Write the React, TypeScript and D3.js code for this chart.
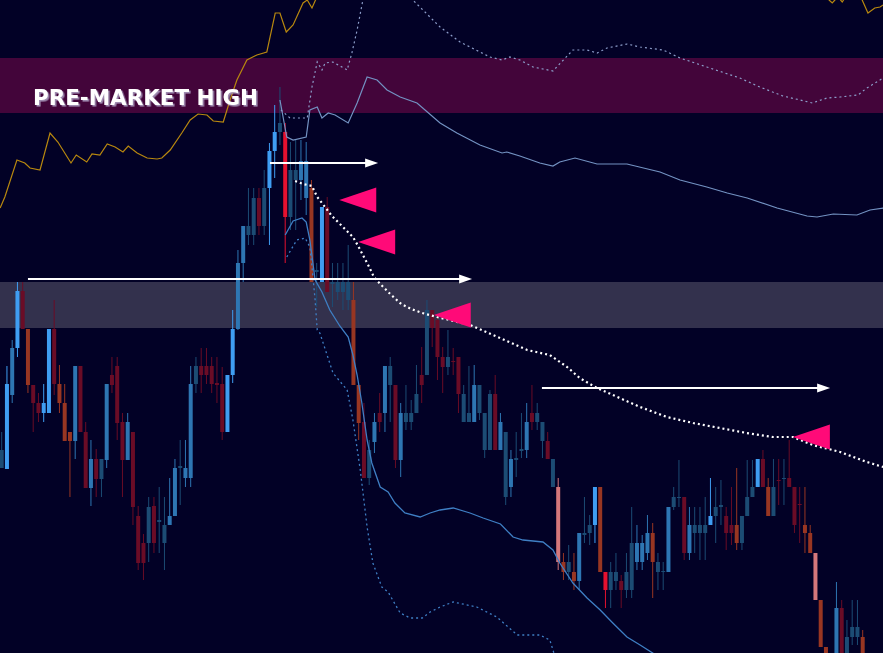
import React from "react";
import * as d3 from "d3";

const W = 883;
const H = 653;

// ---- Candles (price in cents, bar index = position in array) ----
const opens = [
  232, 231, 305, 352, 409, 371, 315, 297, 287, 287,
  371, 316, 297, 268, 259, 334, 268, 212, 241, 221,
  240, 325, 334, 278, 240, 268, 184, 157, 157, 194,
  178, 157, 175, 184, 232, 222, 222, 316, 334, 334,
  334, 317, 316, 268, 325, 371, 437, 465, 465, 502,
  474, 512, 549, 568, 568, 483, 520, 520, 502, 512,
  428, 418, 493, 416, 408, 408, 400, 400, 315, 278,
  222, 258, 287, 287, 315, 315, 240, 278, 278, 287,
  325, 325, 390, 380, 343, 333, 339, 343, 278, 278,
  278, 287, 250, 250, 306, 250, 203, 213, 240, 249,
  250, 287, 278, 259, 259, 213, 213, 138, 128, 128,
  119, 165, 167, 175, 213, 128, 110, 119, 119, 110,
  110, 138, 138, 147, 167, 128, 128, 128, 193, 202,
  203, 147, 167, 167, 167, 175, 184, 193, 184, 175,
  175, 157, 184, 203, 213, 241, 213, 184, 220, 221,
  222, 213, 196, 175, 167, 147, 100, 53, 40, 40,
  92, 40, 63, 63, 63,
];
const highs = [
  268, 334, 360, 418, 418, 371, 315, 307, 316, 371,
  400, 335, 316, 268, 334, 334, 278, 260, 251, 241,
  316, 343, 343, 287, 287, 268, 194, 166, 203, 203,
  213, 203, 222, 241, 260, 260, 334, 343, 352, 352,
  343, 343, 333, 325, 390, 450, 474, 512, 512, 512,
  530, 557, 595, 613, 577, 558, 560, 560, 558, 520,
  437, 493, 503, 437, 437, 437, 455, 418, 315, 297,
  260, 287, 307, 334, 343, 315, 297, 315, 300, 335,
  353, 400, 390, 385, 353, 370, 352, 343, 315, 334,
  335, 315, 287, 310, 325, 287, 268, 250, 268, 287,
  297, 315, 297, 278, 268, 241, 222, 147, 155, 147,
  167, 203, 185, 213, 213, 128, 138, 147, 125, 147,
  193, 175, 165, 185, 177, 147, 138, 193, 213, 240,
  203, 193, 193, 193, 203, 222, 213, 220, 193, 213,
  232, 184, 240, 240, 241, 250, 222, 241, 241, 241,
  260, 213, 213, 213, 175, 147, 100, 53, 40, 118,
  100, 80, 100, 100, 70,
];
const lows = [
  232, 231, 297, 343, 371, 307, 268, 278, 278, 287,
  305, 287, 259, 203, 241, 268, 212, 194, 203, 203,
  232, 307, 260, 203, 240, 175, 130, 120, 138, 147,
  147, 130, 175, 184, 195, 213, 213, 307, 307, 316,
  307, 297, 260, 268, 317, 370, 418, 455, 455, 465,
  465, 455, 522, 555, 437, 470, 470, 500, 485, 418,
  393, 418, 408, 393, 400, 390, 390, 315, 260, 222,
  215, 247, 268, 268, 278, 232, 223, 270, 270, 287,
  297, 325, 353, 320, 307, 325, 325, 287, 278, 278,
  278, 280, 242, 250, 250, 250, 195, 203, 223, 242,
  242, 270, 270, 242, 241, 213, 130, 120, 120, 110,
  110, 157, 155, 157, 128, 92, 92, 110, 92, 102,
  102, 130, 130, 140, 102, 110, 110, 128, 190, 193,
  140, 140, 147, 140, 140, 175, 157, 175, 150, 155,
  150, 150, 184, 203, 213, 213, 184, 184, 195, 195,
  213, 167, 157, 147, 147, 100, 53, 35, 10, 35,
  35, 35, 55, 55, 35,
];
const closes = [
  250, 316, 352, 409, 371, 315, 297, 287, 297, 371,
  316, 297, 259, 259, 334, 268, 212, 241, 221, 241,
  316, 315, 277, 240, 278, 193, 137, 137, 193, 157,
  180, 175, 184, 232, 234, 232, 316, 334, 325, 325,
  316, 315, 268, 325, 371, 437, 474, 474, 502, 474,
  512, 549, 568, 577, 483, 530, 530, 539, 539, 418,
  430, 493, 408, 418, 418, 418, 418, 315, 277, 222,
  250, 278, 278, 334, 334, 240, 287, 287, 287, 306,
  315, 390, 372, 343, 333, 343, 338, 306, 306, 287,
  315, 315, 287, 306, 250, 278, 268, 241, 242, 251,
  278, 278, 287, 278, 241, 241, 138, 128, 138, 119,
  167, 167, 175, 213, 128, 110, 128, 128, 110, 128,
  157, 157, 157, 167, 138, 138, 129, 193, 203, 203,
  147, 175, 175, 175, 175, 184, 193, 195, 167, 167,
  157, 184, 203, 213, 241, 213, 184, 213, 219, 222,
  213, 175, 195, 167, 147, 100, 53, 40, 20, 92,
  40, 63, 73, 73, 40,
];
// relative volume bucket (1 = light, 4 = heavy) -> colour intensity
const volumeShade = [
  1, 3, 2, 3, 1, 2, 1, 1, 3, 3,
  1, 2, 2, 2, 2, 1, 1, 2, 1, 1,
  2, 1, 1, 1, 2, 1, 1, 1, 1, 1,
  1, 1, 2, 2, 1, 2, 2, 1, 1, 1,
  1, 1, 1, 3, 3, 2, 2, 1, 1, 1,
  1, 3, 3, 1, 4, 1, 1, 2, 2, 2,
  1, 3, 1, 1, 1, 1, 1, 2, 2, 1,
  1, 2, 1, 2, 1, 1, 2, 1, 1, 1,
  1, 1, 1, 1, 1, 1, 1, 1, 1, 1,
  2, 1, 1, 1, 1, 2, 1, 2, 1, 1,
  2, 1, 1, 1, 1, 1, 3, 2, 1, 2,
  2, 1, 1, 3, 2, 4, 1, 1, 1, 1,
  1, 2, 2, 2, 2, 1, 1, 2, 1, 1,
  1, 2, 1, 1, 1, 3, 1, 1, 1, 1,
  2, 1, 1, 1, 3, 1, 2, 1, 1, 1,
  1, 1, 1, 2, 2, 3, 2, 2, 2, 2,
  1, 1, 1, 1, 2,
];

// ---- Overlay lines: [bar index, price] ----
const orangeLine: [number, number][] = [
  [-0.3, 492], [0.6, 503], [2.9, 540], [4.4, 537], [5.4, 532], [7.3, 530], [9.2, 567],
  [10.7, 558], [13.2, 537], [14.2, 545], [16.2, 538], [17.2, 546], [18.7, 545], [20.1, 556],
  [21.6, 553], [23.1, 548], [24.1, 554], [25.8, 547], [27.7, 542], [29.6, 541], [30.5, 542],
  [32.1, 550], [34.3, 567], [35.9, 580], [37.4, 586], [39.1, 585], [40.3, 579], [42.2, 578],
  [43.5, 600], [44.8, 620], [46.7, 640], [48.6, 645], [50.5, 648], [52.1, 687], [53.0, 687],
  [54.2, 668], [55.5, 675], [57.4, 697], [58.2, 700], [59.1, 692], [60.2, 705], [62.2, 730],
  [155.9, 730], [157.0, 705], [157.6, 700], [158.2, 697], [158.7, 700], [159.3, 703],
  [160.1, 698], [160.6, 702], [163.5, 705], [163.9, 700], [165.0, 687], [166.3, 692],
  [167.3, 693], [167.9, 695],
];
const upperBand: [number, number][] = [
  [53.0, 600], [54.3, 563], [55.5, 560], [58.0, 563], [58.7, 590], [60.1, 593], [61.0, 582],
  [62.2, 587], [63.5, 585], [66.0, 577], [67.7, 597], [69.6, 623], [71.5, 620], [73.4, 610],
  [75.9, 603], [79.1, 597], [83.5, 577], [86.7, 567], [91.1, 555], [95.3, 547], [96.2, 548],
  [98.7, 544], [102.5, 537], [105.0, 534], [106.3, 538], [109.2, 542], [113.4, 536],
  [119.1, 536], [125.4, 528], [129.2, 520], [134.3, 513], [138.2, 507], [142.0, 502],
  [147.7, 492], [153.4, 484], [155.3, 483], [158.4, 486], [162.9, 485], [165.4, 490],
  [167.9, 492],
];
const upperBand2: [number, number][] = [
  [53.2, 590], [54.9, 582], [58.2, 582], [59.1, 613], [60.1, 638], [61.0, 630], [61.6, 637],
  [63.1, 638], [65.8, 630], [66.7, 647], [67.7, 670], [68.8, 700], [69.8, 720], [71.1, 730],
  [74.9, 725], [78.3, 700], [83.5, 673], [87.3, 658], [93.0, 643], [95.3, 640], [96.8, 643],
  [98.7, 640], [101.2, 633], [105.0, 629], [108.8, 650], [111.5, 650], [113.4, 647],
  [115.3, 652], [119.1, 656], [121.6, 653], [126.0, 650], [129.2, 642], [134.3, 633],
  [140.6, 622], [144.4, 613], [148.8, 604], [152.1, 600], [154.4, 597], [157.2, 602],
  [159.7, 603], [163.1, 605], [164.8, 612], [167.9, 622],
];
const lowerBand: [number, number][] = [
  [54.0, 465], [55.5, 479], [57.2, 482], [58.0, 478], [58.7, 460], [59.7, 420], [61.0, 408],
  [62.5, 390], [64.4, 374], [66.0, 363], [66.9, 345], [67.7, 325], [68.6, 297], [69.6, 260],
  [70.5, 237], [72.1, 213], [73.6, 208], [74.9, 197], [76.8, 187], [79.7, 183], [81.6, 187],
  [83.5, 190], [86.0, 192], [89.2, 187], [91.7, 182], [95.0, 176], [97.4, 163], [99.3, 160],
  [103.1, 158], [105.0, 150], [106.3, 137], [108.8, 117], [111.5, 102], [114.0, 90],
  [116.4, 77], [119.1, 63], [121.6, 55], [124.6, 45],
];
const lowerBand2: [number, number][] = [
  [54.3, 443], [56.2, 460], [57.8, 462], [58.7, 453], [59.1, 433], [59.7, 400], [60.1, 370],
  [60.6, 367], [63.1, 327], [65.8, 310], [66.9, 280], [68.3, 230], [69.6, 173], [70.7, 137],
  [72.4, 113], [73.6, 108], [75.9, 87], [77.8, 82], [80.1, 82], [81.6, 88], [83.5, 93],
  [86.0, 98], [90.5, 93], [94.3, 83], [98.2, 65], [102.5, 65], [104.4, 60], [105.6, 40],
];
const vwapLine: [number, number][] = [
  [55.9, 519], [57.4, 516], [59.1, 514], [60.1, 503], [61.0, 497], [62.9, 484], [65.0, 473],
  [66.9, 463], [67.9, 454], [69.0, 443], [70.0, 433], [70.9, 423], [72.1, 416], [74.0, 406],
  [76.1, 396], [78.0, 391], [80.1, 387], [82.9, 383], [89.2, 375], [94.9, 362], [100.1, 350],
  [104.4, 345], [107.7, 333], [110.1, 322], [113.4, 312], [116.4, 305], [121.6, 293],
  [126.7, 283], [131.7, 277], [136.8, 272], [141.9, 267], [146.9, 263], [150.7, 263],
  [154.5, 255], [159.7, 248], [164.8, 238], [167.9, 233],
];

// ---- Annotations ----
const arrowStarts = [51.1, 5.0, 102.9];
const arrowEnds = [71.7, 89.6, 157.8];
const arrowPrices = [537, 421, 312];
const flagIndex = [64.3, 67.9, 82.3, 150.7];
const flagPrice = [500, 458, 385, 263];
const premarketZone = [587, 642];
const grayZone = [372, 418];
const premarketLabel = "PRE-MARKET HIGH";

const upColors = ["#1c4c74", "#2e76b3", "#3f9df2", "#3f9df2"];
const downColors = ["#6a0c26", "#983622", "#d4777b", "#e5112f"];

export default function App() {
  const x = d3.scaleLinear().domain([0, 168]).range([1.7, 1.7 + 5.25 * 168]);
  const y = d3.scaleLinear().domain([47, 700]).range([H, 0]);
  const line = d3
    .line<[number, number]>()
    .x((d) => x(d[0]))
    .y((d) => y(d[1]));
  const bodyW = 4;

  return (
    <svg
      width={W}
      height={H}
      style={{ position: "fixed", left: 0, top: 0, display: "block" }}
    >
      <defs>
        <filter id="labelShadow" x="-5%" y="-30%" width="115%" height="170%">
          <feDropShadow dx={1.6} dy={1.6} stdDeviation={0.4} floodColor="#a898bb" floodOpacity={0.9} />
        </filter>
      </defs>
      <rect x={0} y={0} width={W} height={H} fill="#020126" />
      <rect
        x={0}
        y={y(premarketZone[1])}
        width={W}
        height={y(premarketZone[0]) - y(premarketZone[1])}
        fill="#43053a"
      />
      <rect
        x={0}
        y={y(grayZone[1])}
        width={W}
        height={y(grayZone[0]) - y(grayZone[1])}
        fill="#33314d"
      />

      {opens.map((o, i) => {
        const c = closes[i];
        const up = c >= o;
        const col = (up ? upColors : downColors)[volumeShade[i] - 1];
        const top = y(Math.max(o, c));
        const bot = y(Math.min(o, c));
        const cx = x(i);
        return (
          <g key={i}>
            <line
              x1={cx}
              x2={cx}
              y1={y(highs[i])}
              y2={y(lows[i])}
              stroke={col}
              strokeWidth={1}
            />
            <rect
              x={cx - bodyW / 2}
              y={top}
              width={bodyW}
              height={Math.max(1, bot - top)}
              fill={col}
            />
          </g>
        );
      })}

      <path d={line(orangeLine) || ""} fill="none" stroke="#b8880f" strokeWidth={1.2} />
      <path d={line(upperBand) || ""} fill="none" stroke="#7392c2" strokeWidth={1.2} />
      <path
        d={line(upperBand2) || ""}
        fill="none"
        stroke="#8c9dc9"
        strokeWidth={1.2}
        strokeDasharray="2 3"
      />
      <path d={line(lowerBand) || ""} fill="none" stroke="#3f7fc4" strokeWidth={1.3} />
      <path
        d={line(lowerBand2) || ""}
        fill="none"
        stroke="#3f7fc4"
        strokeWidth={1.3}
        strokeDasharray="2 3"
      />
      <path
        d={line(vwapLine) || ""}
        fill="none"
        stroke="#ffffff"
        strokeWidth={2.2}
        strokeDasharray="2 3"
      />

      {arrowStarts.map((s, k) => {
        const x1 = x(s);
        const x2 = x(arrowEnds[k]);
        const yy = y(arrowPrices[k]);
        return (
          <g key={"a" + k}>
            <line x1={x1} x2={x2 - 11} y1={yy} y2={yy} stroke="#ffffff" strokeWidth={2} />
            <polygon
              points={`${x2},${yy} ${x2 - 13},${yy - 4.5} ${x2 - 13},${yy + 4.5}`}
              fill="#ffffff"
            />
          </g>
        );
      })}

      {flagIndex.map((f, k) => {
        const tx = x(f);
        const ty = y(flagPrice[k]);
        return (
          <polygon
            key={"f" + k}
            points={`${tx},${ty} ${tx + 37},${ty - 12.5} ${tx + 37},${ty + 12.5}`}
            fill="#ff0a78"
          />
        );
      })}

      <text
        x={33}
        y={105}
        fontFamily="'DejaVu Sans', sans-serif"
        fontWeight="bold"
        fontSize={22}
        textLength={225}
        lengthAdjust="spacingAndGlyphs"
        fill="#ffffff"
        filter="url(#labelShadow)"
      >
        {premarketLabel}
      </text>
    </svg>
  );
}
